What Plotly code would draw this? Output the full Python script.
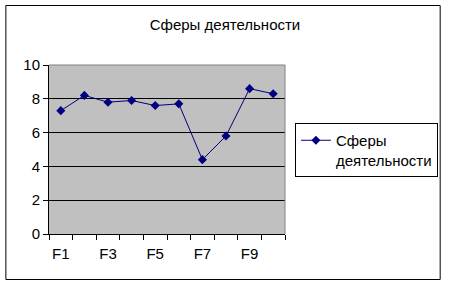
import plotly.graph_objects as go

categories = ["F1", "F2", "F3", "F4", "F5", "F6", "F7", "F8", "F9", "F10"]
values = [7.3, 8.2, 7.8, 7.9, 7.6, 7.7, 4.4, 5.8, 8.6, 8.3]
tick_labels = ["F1", "", "F3", "", "F5", "", "F7", "", "F9", ""]
series_name = "Сферы<br>деятельности"
title_text = "Сферы деятельности"

FONT = "Liberation Sans, Arial, sans-serif"
FS = 15

fig = go.Figure()
fig.add_trace(go.Scatter(
    x=categories, y=values, mode="lines+markers", name=series_name,
    line=dict(color="#000080", width=1),
    marker=dict(symbol="diamond", size=7, color="#000080"),
))

L, R, T, B = 49, 163, 65, 52
W, H = 450, 286
pw = W - L - R
ph = H - T - B

def px_x(x):
    return (x - L) / pw

def px_y(y):
    return (H - B - y) / ph

fig.update_layout(
    width=W, height=H,
    margin=dict(l=L, r=R, t=T, b=B),
    paper_bgcolor="white",
    plot_bgcolor="#C0C0C0",
    font=dict(family=FONT, size=FS, color="black"),
    title=dict(text=title_text, x=0.5, xanchor="center", y=1 - 25 / H, yanchor="middle",
               font=dict(family=FONT, size=FS, color="black")),
    showlegend=True,
    legend=dict(x=px_x(297), y=px_y(123), xanchor="left", yanchor="top",
                bordercolor="black", borderwidth=1, bgcolor="white",
                font=dict(family=FONT, size=FS), valign="top",
                itemwidth=30, tracegroupgap=0),
    xaxis=dict(type="category", range=[-0.5, 9.5], tickmode="array",
               tickvals=categories, ticktext=tick_labels, tickson="boundaries",
               ticks="outside", ticklen=5, tickcolor="black", showgrid=False,
               showline=True, linecolor="black", linewidth=1, mirror=False,
               zeroline=False, tickangle=0, tickfont=dict(family=FONT, size=FS),
               ticklabelstandoff=6),
    yaxis=dict(range=[0, 10], dtick=2, tick0=0, ticks="outside", ticklen=5,
               tickcolor="black", showgrid=True, gridcolor="black", gridwidth=1,
               showline=True, linecolor="black", linewidth=1, zeroline=False,
               tickfont=dict(family=FONT, size=FS)),
    shapes=[
        dict(type="line", xref="paper", yref="paper", x0=0, x1=1, y0=1, y1=1,
             line=dict(color="#808080", width=1)),
        dict(type="line", xref="paper", yref="paper", x0=1, x1=1, y0=0, y1=1,
             line=dict(color="#808080", width=1)),
        dict(type="rect", xref="paper", yref="paper",
             x0=px_x(5.5), x1=px_x(443.5), y0=px_y(279.5), y1=px_y(5.5),
             line=dict(color="black", width=1), layer="above"),
    ],
)

fig.write_html("out.html")
